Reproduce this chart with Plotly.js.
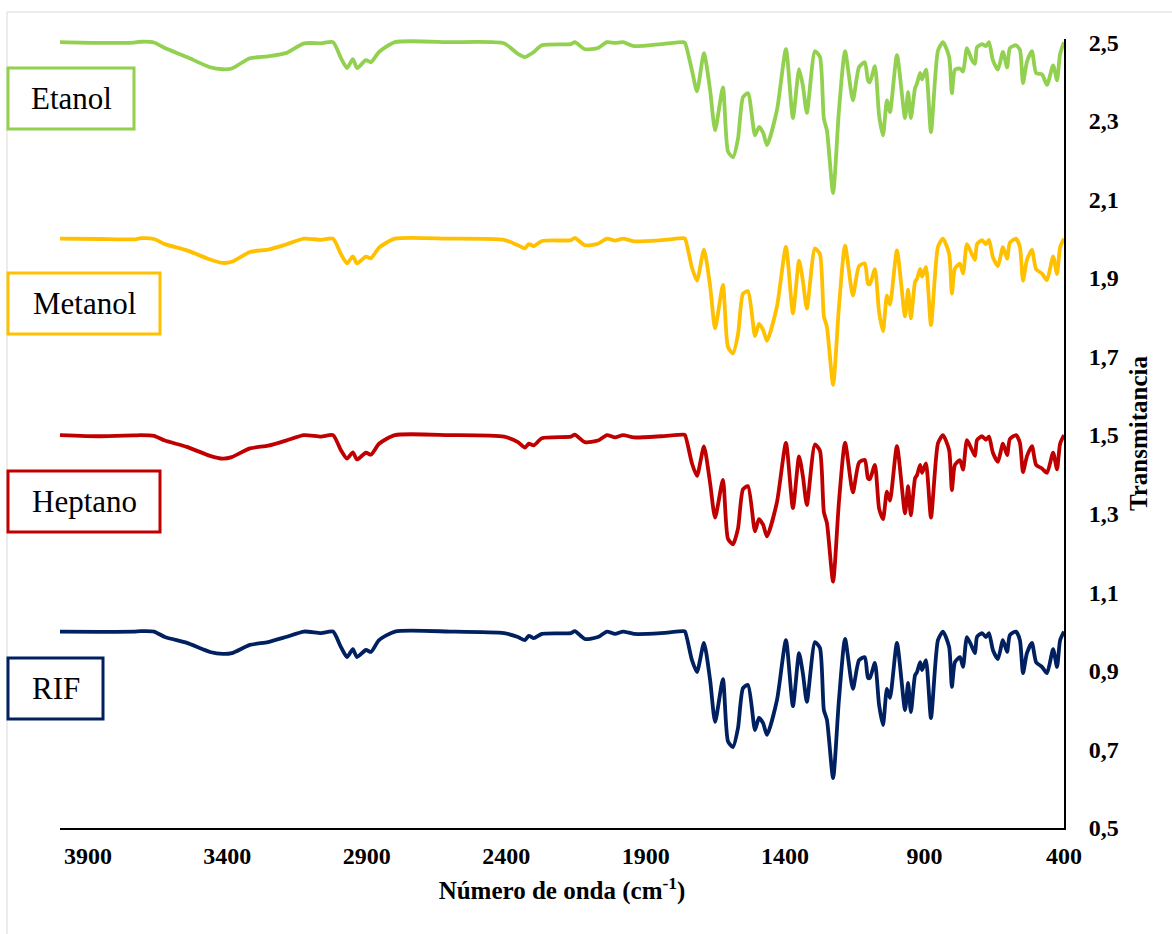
<!DOCTYPE html>
<html>
<head>
<meta charset="utf-8">
<script src="https://cdn.plot.ly/plotly-3.0.1.min.js"></script>
<style>html,body{margin:0;padding:0;background:#fff;}#chart{width:1172px;height:934px;}</style>
</head>
<body>
<div id="chart"></div>
<script>
const wavenumber = [4000,3857,3735,3710,3663,3624,3545,3462,3416,3384,
3319,3254,3190,3125,3064,3021,2993,2971,2950,2935,
2903,2885,2856,2799,2602,2408,2358,2333,2319,2301,
2272,2168,2154,2118,2071,2039,2010,1981,1942,1845,
1766,1759,1734,1716,1691,1669,1651,1623,1605,1587,
1569,1551,1533,1508,1494,1479,1465,1429,1397,1372,
1350,1336,1322,1293,1275,1261,1250,1228,1207,1185,
1157,1135,1114,1103,1096,1078,1063,1049,1035,1024,
999,970,959,949,934,927,916,909,895,877,
852,834,812,802,791,773,762,748,730,719,
712,694,680,669,655,637,619,604,594,572,
558,547,533,515,500,479,461,439,425,414,400];

const etanol = [2.500,2.498,2.499,2.501,2.499,2.485,2.462,2.436,2.431,2.433,
2.459,2.464,2.472,2.497,2.497,2.500,2.460,2.434,2.457,2.434,
2.454,2.449,2.475,2.500,2.500,2.497,2.470,2.462,2.467,2.475,
2.492,2.495,2.500,2.482,2.485,2.500,2.498,2.500,2.490,2.495,
2.500,2.498,2.428,2.375,2.472,2.378,2.276,2.385,2.222,2.207,
2.254,2.360,2.370,2.263,2.284,2.270,2.238,2.328,2.482,2.307,
2.431,2.388,2.320,2.477,2.462,2.305,2.275,2.116,2.326,2.477,
2.352,2.436,2.449,2.403,2.398,2.439,2.313,2.263,2.352,2.322,
2.467,2.307,2.373,2.307,2.383,2.395,2.422,2.405,2.430,2.271,
2.478,2.500,2.463,2.370,2.430,2.433,2.425,2.485,2.454,2.445,
2.487,2.495,2.490,2.500,2.454,2.430,2.475,2.436,2.485,2.492,
2.480,2.396,2.450,2.477,2.421,2.418,2.391,2.441,2.403,2.470,2.500];

const metanol = [2.000,1.999,1.998,2.001,1.999,1.986,1.970,1.947,1.938,1.941,
1.966,1.972,1.985,2.000,1.997,2.000,1.961,1.937,1.955,1.937,
1.954,1.950,1.977,2.000,2.000,1.997,1.983,1.975,1.986,1.981,
1.994,1.996,2.002,1.983,1.987,2.000,1.995,2.000,1.993,1.996,
2.001,2.000,1.926,1.893,1.972,1.880,1.772,1.882,1.724,1.708,
1.756,1.860,1.866,1.752,1.783,1.768,1.740,1.828,1.979,1.810,
1.944,1.891,1.822,1.975,1.960,1.802,1.775,1.628,1.826,1.982,
1.855,1.930,1.937,1.885,1.884,1.922,1.813,1.764,1.855,1.832,
1.970,1.802,1.870,1.797,1.890,1.898,1.923,1.903,1.928,1.780,
1.979,2.000,1.962,1.860,1.924,1.936,1.911,1.986,1.960,1.946,
1.986,1.996,1.986,1.997,1.953,1.930,1.978,1.949,1.990,2.000,
1.978,1.893,1.946,1.971,1.922,1.911,1.894,1.955,1.910,1.978,2.000];

const heptano = [1.500,1.497,1.499,1.500,1.498,1.486,1.470,1.447,1.440,1.444,
1.466,1.473,1.486,1.500,1.496,1.500,1.462,1.440,1.456,1.438,
1.455,1.450,1.478,1.500,1.500,1.496,1.482,1.468,1.478,1.474,
1.492,1.496,1.501,1.482,1.486,1.500,1.494,1.500,1.494,1.497,
1.501,1.500,1.428,1.396,1.471,1.378,1.290,1.386,1.236,1.222,
1.262,1.362,1.370,1.255,1.286,1.272,1.242,1.330,1.480,1.314,
1.446,1.394,1.322,1.476,1.460,1.304,1.276,1.127,1.330,1.481,
1.354,1.430,1.437,1.390,1.388,1.424,1.313,1.286,1.356,1.333,
1.472,1.301,1.370,1.296,1.390,1.398,1.424,1.404,1.428,1.290,
1.479,1.500,1.462,1.360,1.424,1.436,1.412,1.487,1.462,1.447,
1.487,1.497,1.488,1.496,1.455,1.432,1.478,1.449,1.490,1.500,
1.480,1.406,1.446,1.472,1.424,1.415,1.404,1.455,1.413,1.478,1.500];

const rif = [1.000,0.999,1.000,1.001,1.000,0.986,0.971,0.948,0.943,0.945,
0.966,0.973,0.986,1.000,0.996,1.000,0.961,0.935,0.955,0.935,
0.953,0.948,0.978,1.000,1.000,0.996,0.986,0.978,0.989,0.983,
0.994,0.996,1.001,0.981,0.986,1.000,0.994,1.000,0.994,0.996,
1.001,1.000,0.927,0.897,0.971,0.877,0.770,0.879,0.721,0.706,
0.754,0.856,0.864,0.749,0.780,0.767,0.737,0.826,0.978,0.810,
0.945,0.892,0.821,0.973,0.958,0.800,0.775,0.627,0.826,0.981,
0.854,0.927,0.935,0.882,0.882,0.920,0.813,0.762,0.854,0.831,
0.971,0.800,0.869,0.795,0.889,0.897,0.922,0.902,0.927,0.780,
0.978,1.000,0.961,0.859,0.922,0.935,0.910,0.986,0.961,0.945,
0.986,0.996,0.986,0.996,0.953,0.930,0.978,0.948,0.991,1.000,
0.978,0.894,0.945,0.971,0.922,0.910,0.894,0.955,0.910,0.978,1.000];

const seriesNames = ['Etanol','Metanol','Heptano','RIF'];
const seriesColors = ['#92D050','#FFC000','#C00000','#002060'];
const seriesValues = [etanol, metanol, heptano, rif];

const xTicks = [3900,3400,2900,2400,1900,1400,900,400];
const yTicks = [0.5,0.7,0.9,1.1,1.3,1.5,1.7,1.9,2.1,2.3,2.5];

const FONT = 'Liberation Serif, Times New Roman, serif';

// layout geometry (pixels)
const W = 1172, H = 934;
const M = {l:60, r:108, t:39, b:106};
const plotW = W - M.l - M.r, plotH = H - M.t - M.b;
const px = x => (x - M.l) / plotW;
const py = y => (H - M.b - y) / plotH;

const traces = seriesValues.map((vals, i) => ({
  x: wavenumber, y: vals, type: 'scatter', mode: 'lines',
  name: seriesNames[i],
  line: {color: seriesColors[i], width: 3.8, shape: 'spline', smoothing: 0.6},
  hoverinfo: 'x+y+name'
}));

// legend boxes [x0, x1, y0, y1] in pixels
const boxes = [[8,134,68,129],[8,160,273,334],[8,160,471,532],[8,103,658,719]];

const shapes = [{
  type:'rect', xref:'paper', yref:'paper',
  x0:px(7), x1:px(W+20), y0:py(H+20), y1:py(12),
  line:{color:'#d9d9d9', width:1}, fillcolor:'rgba(0,0,0,0)', layer:'below'
}];
const annotations = [];
boxes.forEach((b, i) => {
  shapes.push({type:'rect', xref:'paper', yref:'paper',
    x0:px(b[0]), x1:px(b[1]), y0:py(b[3]), y1:py(b[2]),
    line:{color:seriesColors[i], width:3}, fillcolor:'#ffffff', layer:'above'});
  annotations.push({xref:'paper', yref:'paper',
    x:px((b[0]+b[1])/2), y:py((b[2]+b[3])/2), xanchor:'center', yanchor:'middle',
    text: seriesNames[i], showarrow:false,
    font:{family:FONT, size:31, color:'#000'}});
});

const layout = {
  width: W, height: H,
  margin: M,
  paper_bgcolor:'#fff', plot_bgcolor:'#fff',
  showlegend:false,
  separators:',.',
  font:{family:FONT, color:'#000'},
  xaxis:{
    range:[4000,400], tickmode:'array', tickvals:xTicks,
    ticks:'', showgrid:false, zeroline:false,
    showline:true, linecolor:'#000', linewidth:2,
    tickfont:{family:FONT, size:24, color:'#000', weight:'bold'},
    ticklabelstandoff:5,
    title:{text:'Número de onda (cm<sup>-1</sup>)', font:{family:FONT, size:25, color:'#000', weight:'bold'}, standoff:14}
  },
  yaxis:{
    side:'right', range:[0.5,2.508], tickmode:'array', tickvals:yTicks,
    tickformat:'.1f', ticks:'', showgrid:false, zeroline:false,
    showline:true, linecolor:'#000', linewidth:2,
    tickfont:{family:FONT, size:24, color:'#000', weight:'bold'},
    ticklabelstandoff:18,
    title:{text:'Transmitancia', font:{family:FONT, size:25, color:'#000', weight:'bold'}, standoff:12}
  },
  shapes: shapes,
  annotations: annotations
};

Plotly.newPlot('chart', traces, layout, {displayModeBar:false, staticPlot:true});
</script>
</body>
</html>
